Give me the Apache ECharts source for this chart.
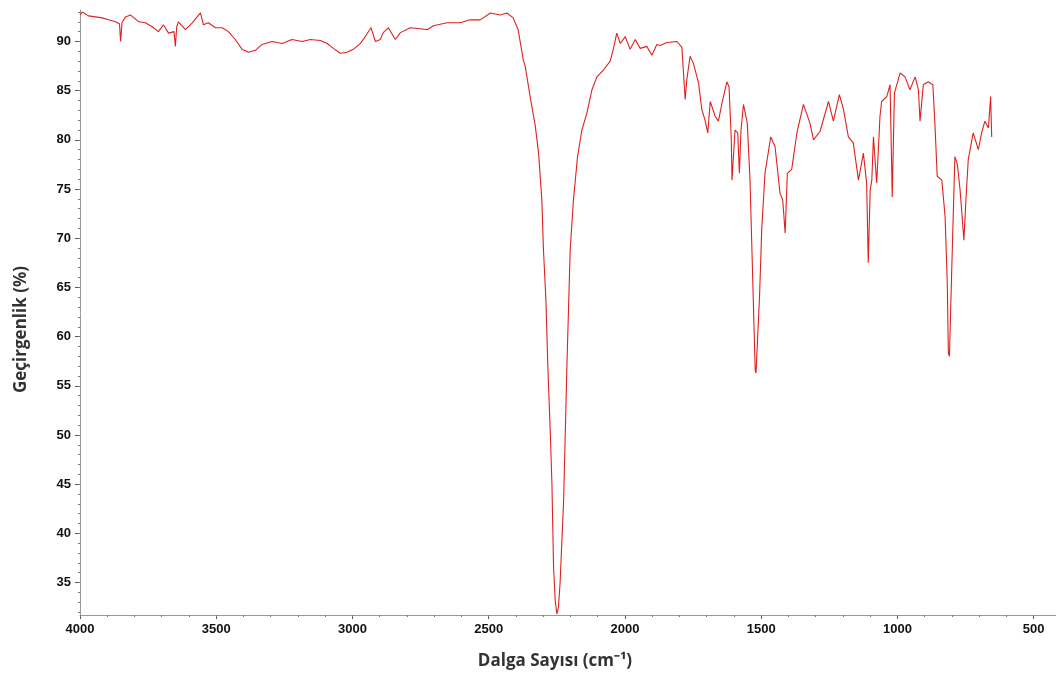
<!DOCTYPE html>
<html><head><meta charset="utf-8">
<script src="https://cdn.jsdelivr.net/npm/echarts@6/dist/echarts.min.js"></script>
<style>html,body{margin:0;padding:0;background:#fff}#c{width:1056px;height:686px}</style>
</head><body><div id="c"></div>
<script>
const wavenumbers = [4000,3992,3969,3943,3919,3895,3870,3855,3851,3846,3833,3815,3784,3760,3735,3712,3694,3675,3655,3650,3645,3639,3613,3588,3558,3547,3529,3503,3478,3455,3430,3405,3382,3356,3332,3295,3258,3222,3185,3155,3118,3093,3070,3045,3020,2997,2971,2953,2932,2916,2898,2887,2868,2843,2824,2788,2751,2726,2703,2653,2604,2568,2531,2494,2458,2433,2410,2392,2373,2366,2348,2329,2317,2305,2299,2290,2283,2274,2268,2262,2256,2250,2244,2238,2225,2213,2201,2189,2174,2158,2140,2121,2103,2079,2054,2042,2030,2017,1999,1981,1962,1944,1920,1901,1883,1871,1846,1809,1791,1779,1773,1761,1749,1730,1718,1706,1696,1687,1669,1657,1644,1626,1618,1610,1607,1596,1586,1580,1574,1565,1551,1541,1532,1522,1519,1506,1498,1486,1465,1449,1431,1421,1412,1404,1388,1369,1345,1321,1308,1284,1253,1235,1213,1198,1180,1162,1143,1125,1113,1107,1100,1094,1088,1076,1064,1058,1039,1027,1019,1011,990,972,954,935,923,917,905,887,870,862,854,837,825,817,813,809,804,797,789,780,770,756,748,740,722,703,691,679,666,658,654];
const transmittance = [92.7,93.0,92.6,92.5,92.4,92.2,92.0,91.8,90.0,91.9,92.5,92.7,92.0,91.9,91.5,91.0,91.7,90.85,91.0,89.5,91.5,92.0,91.2,91.9,92.9,91.7,91.9,91.4,91.4,91.0,90.2,89.2,88.9,89.1,89.7,90.0,89.8,90.2,90.0,90.2,90.1,89.8,89.3,88.8,88.9,89.2,89.8,90.5,91.4,90.0,90.2,90.9,91.4,90.2,90.9,91.4,91.3,91.2,91.6,91.9,91.9,92.2,92.2,92.9,92.7,92.9,92.4,91.2,88.1,87.5,84.4,81.4,78.65,73.9,68.8,63.7,57.0,50.2,45.1,36.6,33.2,31.8,32.5,35.0,43.4,57.0,68.8,73.9,78.3,81.0,82.7,85.1,86.4,87.1,88.0,89.3,90.85,89.8,90.5,89.2,90.2,89.3,89.5,88.6,89.7,89.6,89.9,90.0,89.4,84.1,86.1,88.5,87.8,85.8,83.1,82.0,80.7,83.9,82.4,81.9,83.7,85.9,85.4,80.3,75.9,81.0,80.7,76.6,81.0,83.6,81.7,75.9,66.8,56.6,56.3,64.1,70.9,76.6,80.3,79.3,74.6,73.9,70.5,76.6,77.0,80.7,83.6,81.7,80.0,80.85,83.9,81.9,84.6,83.1,80.3,79.7,75.9,78.65,75.6,67.5,74.9,75.9,80.3,75.6,82.4,83.9,84.4,85.6,74.2,84.75,86.8,86.4,85.1,86.4,85.1,81.9,85.6,85.9,85.6,81.4,76.3,75.9,72.2,65.4,58.3,58.0,63.4,70.5,78.3,77.5,74.9,69.8,74.2,78.0,80.7,79.0,80.7,81.9,81.2,84.4,80.3];
const xMajorTicks = [4000,3500,3000,2500,2000,1500,1000,500];
const xMinorTicks = [];
for (let v = 4000; v >= 500; v -= 100) xMinorTicks.push(v);
const yMajorTicks = [35,40,45,50,55,60,65,70,75,80,85,90];
const yMinorTicks = [];
for (let v = 32; v <= 93; v += 1) yMinorTicks.push(v);

const X_MIN = 418, X_MAX = 4000, Y_MIN = 31.7, Y_MAX = 93.2;
const points = wavenumbers.map((w, i) => [w, transmittance[i]]);

const labelFont = { color: '#111', fontWeight: 'bold', fontSize: 13, fontFamily: 'Liberation Sans, Arial, sans-serif' };
const nameFont = { color: '#333', fontWeight: 'bold', fontSize: 17, fontFamily: 'Open Sans, sans-serif' };
const plain = v => String(v);

const chart = echarts.init(document.getElementById('c'), null, { renderer: 'canvas' });
chart.setOption({
  animation: false,
  backgroundColor: '#fff',
  grid: { left: 80, right: 0, top: 10, bottom: 71, containLabel: false, outerBoundsMode: 'none' },
  xAxis: [
    {
      type: 'value', min: X_MIN, max: X_MAX, inverse: true,
      name: 'Dalga Sayısı (cm⁻¹)', nameLocation: 'middle', nameGap: 38,
      nameTextStyle: Object.assign({}, nameFont, { padding: [0, 26, 0, 0] }),
      axisLine: { show: true, lineStyle: { color: '#9a9a9a', width: 1 } },
      axisTick: { show: true, length: 4, customValues: xMajorTicks, lineStyle: { color: '#555' } },
      axisLabel: Object.assign({ show: true, margin: 8, customValues: xMajorTicks, formatter: plain }, labelFont),
      splitLine: { show: false }
    },
    {
      type: 'value', min: X_MIN, max: X_MAX, inverse: true, position: 'bottom',
      axisLine: { show: false },
      axisTick: { show: true, length: 2, customValues: xMinorTicks, lineStyle: { color: '#777' } },
      axisLabel: { show: false },
      splitLine: { show: false }
    }
  ],
  yAxis: [
    {
      type: 'value', min: Y_MIN, max: Y_MAX,
      name: 'Geçirgenlik (%)', nameLocation: 'middle', nameGap: 50,
      nameTextStyle: Object.assign({}, nameFont, { padding: [0, 34, 0, 0] }),
      axisLine: { show: true, lineStyle: { color: '#9a9a9a', width: 1 } },
      axisTick: { show: true, length: 5, customValues: yMajorTicks, lineStyle: { color: '#555' } },
      axisLabel: Object.assign({ show: true, margin: 9, customValues: yMajorTicks, formatter: plain }, labelFont),
      splitLine: { show: false }
    },
    {
      type: 'value', min: Y_MIN, max: Y_MAX, position: 'left',
      axisLine: { show: false },
      axisTick: { show: true, length: 2, customValues: yMinorTicks, lineStyle: { color: '#777' } },
      axisLabel: { show: false },
      splitLine: { show: false }
    }
  ],
  series: [{
    type: 'line', xAxisIndex: 0, yAxisIndex: 0,
    data: points, showSymbol: false, symbol: 'none',
    lineStyle: { color: '#e0201e', width: 1.1 },
    clip: true
  }]
});
</script>
</body></html>
